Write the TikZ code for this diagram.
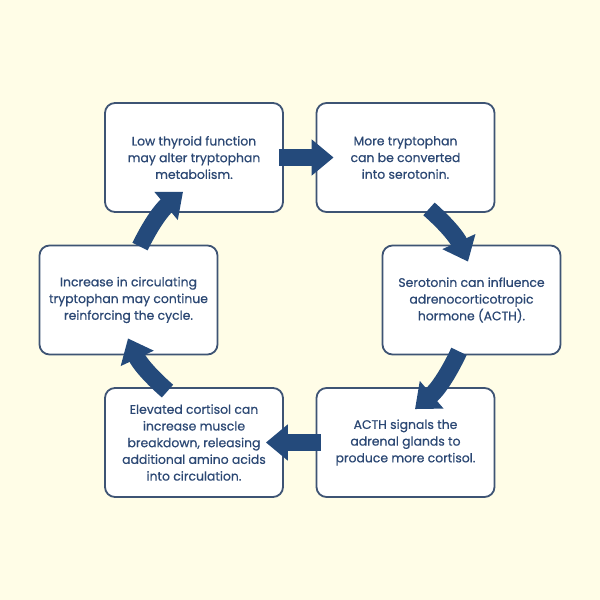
\documentclass[tikz,border=0pt]{standalone}
\usepackage{xcolor}
\usepackage{fontspec}
\setmainfont{Poppins}
\newfontfamily\cardfont{Poppins}[FakeBold=0.6]
\usepackage{tikz}
\usetikzlibrary{arrows.meta}
\usetikzlibrary{positioning}
\definecolor{cream}{HTML}{FFFDE7}
\definecolor{navy}{HTML}{244A7B}
\definecolor{edge}{HTML}{3E5474}
\definecolor{ink}{HTML}{2C4874}
\tikzset{>=latex}
\tikzstyle{card} = [rectangle, rounded corners=10pt, draw=edge, line width=1.8pt, fill=white, minimum width=178pt, minimum height=109pt, align=center, text=ink, font=\cardfont\fontsize{12.4}{16.7}\selectfont]
\tikzstyle{flow} = [-{Triangle[width=35pt, length=22pt]}, draw=navy, line width=17pt]

\begin{document}
\begin{tikzpicture}[x=1pt, y=-1pt]
\fill [cream] (0, 0) rectangle (600, 600);
\node [card] (thyroid) at (194, 157.5) {Low thyroid function\\may alter tryptophan\\metabolism.};
\node [card] (serotonin) at (405.5, 157.5) {More tryptophan\\can be converted\\into serotonin.};
\node [card] (acth) at (471.5, 300) {Serotonin can influence\\adrenocorticotropic\\hormone (ACTH).};
\node [card] (adrenal) at (405.5, 442.5) {ACTH signals the\\adrenal glands to\\produce more cortisol.};
\node [card] (cortisol) at (194, 442.5) {Elevated cortisol can\\increase muscle\\breakdown, releasing\\additional amino acids\\into circulation.};
\node [card] (cycle) at (128.5, 300) {Increase in circulating\\tryptophan may continue\\reinforcing the cycle.};
\draw [flow] ([xshift=-5pt]thyroid.east) to ([xshift=18pt]serotonin.west);
\draw [flow] ([xshift=23.5pt, yshift=4pt]serotonin.south) to [bend left=12] ([xshift=-3.5pt, yshift=-17pt]acth.north);
\draw [flow] ([xshift=-12.5pt, yshift=4pt]acth.south) to [bend left=12] ([xshift=9.5pt, yshift=-22pt]adrenal.north);
\draw [flow] ([xshift=5pt]adrenal.west) to ([xshift=-18pt]cortisol.east);
\draw [flow] ([xshift=-26.5pt, yshift=-4pt]cortisol.north) to [bend left=12] ([xshift=-0.5pt, yshift=17pt]cycle.south);
\draw [flow] ([xshift=11.5pt, yshift=-2pt]cycle.north) to [bend left=12] ([xshift=-11pt, yshift=21pt]thyroid.south);
\end{tikzpicture}
\end{document}
